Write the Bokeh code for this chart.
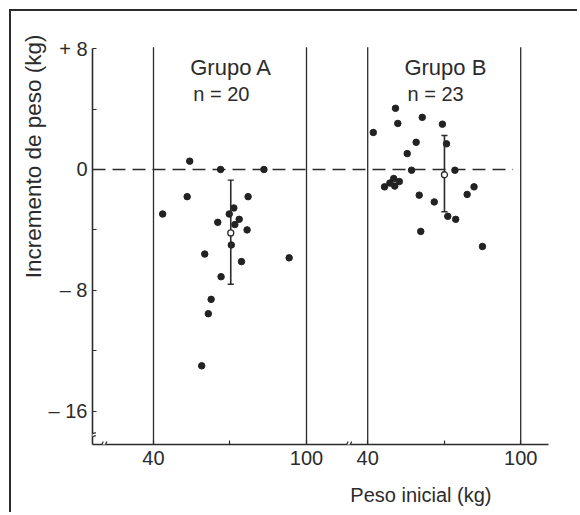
from bokeh.plotting import figure
from bokeh.models import Range1d, FixedTicker, Label, Arrow, Title
from bokeh.embed import file_html
from bokeh.resources import INLINE

# ---------------- data ----------------
a_peso = [54.2, 66.3, 83.3, 53.2, 77.1, 43.6, 71.5, 69.7, 73.6, 65.2,
          71.9, 76.7, 70.5, 60.1, 74.5, 93.2, 66.5, 62.6, 61.5, 58.9]
a_inc = [0.55, 0.0, 0.0, -1.8, -1.8, -2.95, -2.55, -2.95, -3.3, -3.5,
         -3.65, -4.0, -5.0, -5.6, -6.1, -5.85, -7.1, -8.6, -9.55, -13.0]

b_peso = [50.9, 61.4, 51.8, 69.3, 42.2, 70.9, 59.0, 55.5, 57.2, 74.2,
          46.6, 48.7, 50.2, 50.6, 52.4, 81.7, 60.2, 66.1, 79.0, 71.4,
          74.5, 60.8, 85.0]
b_inc = [4.05, 3.45, 3.05, 3.0, 2.45, 1.7, 1.8, 1.05, -0.05, -0.05,
         -1.15, -0.9, -0.6, -1.1, -0.8, -1.15, -1.7, -2.15, -1.65, -3.1,
         -3.3, -4.1, -5.1]

# mean and spread bar of each group: peso, mean, low, high
a_stats = [70.3, -4.2, -7.6, -0.7]
b_stats = [70.1, -0.35, -2.8, 2.25]

group_labels = ["Grupo A", "Grupo B"]
n_labels = ["n = 20", "n = 23"]

y_ticks = [8, 4, 0, -4, -8, -12, -16]
y_tick_labels = ["+ 8", "", "0", "", "\u2013 8", "", "\u2013 16"]
x_ticks = [40, 70, 100]
x_tick_labels = ["40", "", "100"]
panel_limits = [40, 100]

# ---------------- layout constants ----------------
B_OFF = 84.0            # horizontal shift of panel B on the shared axis
X0, X1 = 16.08, 194.9
Y0, Y1 = -18.21, 8.54
INK = "#2b2b2b"
FONT = "Liberation Sans"

p = figure(width=568, height=503, output_backend="svg", toolbar_location=None,
           x_range=Range1d(X0, X1), y_range=Range1d(Y0, Y1),
           min_border_left=81, min_border_right=31, min_border_top=29,
           min_border_bottom=70,
           styles={"border-top": "2px solid #2b2b2b",
                   "border-left": "2px solid #2b2b2b",
                   "margin-top": "9px", "margin-left": "9px"})
p.outline_line_color = None
p.grid.visible = False
p.background_fill_color = "white"
p.border_fill_color = "white"

# axes
for ax in (p.xaxis[0], p.yaxis[0]):
    ax.axis_line_color = INK
    ax.axis_line_width = 1.6
    ax.major_tick_line_color = INK
    ax.major_tick_line_width = 1.2
    ax.major_tick_in = 4
    ax.major_tick_out = 0
    ax.minor_tick_line_color = None
    ax.major_label_text_font = FONT
    ax.major_label_text_font_size = "20px"
    ax.major_label_text_color = INK

xt = x_ticks + [t + B_OFF for t in x_ticks]
xl = x_tick_labels + x_tick_labels
p.xaxis.ticker = FixedTicker(ticks=xt)
p.xaxis.major_label_overrides = {float(t): l for t, l in zip(xt, xl)}
p.xaxis.major_label_standoff = 6
# tiny blank axis label: only adds a few pixels of space above the x title
p.xaxis.axis_label = " "
p.xaxis.axis_label_text_font_size = "3px"
p.xaxis.axis_label_standoff = 0
p.yaxis.ticker = FixedTicker(ticks=y_ticks)
p.yaxis.major_label_overrides = {float(t): l for t, l in zip(y_ticks, y_tick_labels)}
p.yaxis.major_label_standoff = 5
p.yaxis.bounds = (Y0, max(y_ticks))

# axis titles
p.add_layout(Title(text="Incremento de peso (kg)", align="right", offset=-6,
                   text_font=FONT, text_font_size="22.5px",
                   text_font_style="normal", text_color=INK, standoff=0),
             "left")
p.add_layout(Title(text="Peso inicial (kg)", align="right", offset=57,
                   text_font=FONT, text_font_size="20px",
                   text_font_style="normal", text_color=INK, standoff=17),
             "below")

# panel limit lines
vx = panel_limits + [v + B_OFF for v in panel_limits]
p.segment(x0=vx, y0=[Y0] * 4, x1=vx, y1=[max(y_ticks) + 0.1] * 4,
          line_color=INK, line_width=1.3)

# zero line
p.segment(x0=[X0], y0=[0], x1=[97 + B_OFF], y1=[0], line_color=INK,
          line_width=1.3, line_dash="13 7")

# points
p.scatter(a_peso, a_inc, size=6.5, color="#222222")
p.scatter([v + B_OFF for v in b_peso], b_inc, size=6.5, color="#222222")

# mean bars
cap = 1.2
for off, (mx, my, lo, hi) in ((0, a_stats), (B_OFF, b_stats)):
    x = mx + off
    p.segment(x0=[x], y0=[lo], x1=[x], y1=[hi], line_color=INK, line_width=1.6)
    p.segment(x0=[x - cap, x - cap], y0=[lo, hi], x1=[x + cap, x + cap],
              y1=[lo, hi], line_color=INK, line_width=1.3)
    p.scatter([x], [my], size=6, fill_color="white", line_color=INK,
              line_width=1.3)

# group labels
for off, g, n in ((0, group_labels[0], n_labels[0]),
                  (B_OFF, group_labels[1], n_labels[1])):
    p.add_layout(Label(x=54.4 + off, y=6.72, text=g, text_font=FONT,
                       text_font_size="22px", text_color=INK,
                       text_baseline="alphabetic", text_align="left"))
    p.add_layout(Label(x=55.6 + off, y=4.98, text=n, text_font=FONT,
                       text_font_size="20px", text_color=INK,
                       text_baseline="alphabetic", text_align="left"))

# axis break marks
def brk_gap(xa, ya, xb, yb, w):
    p.add_layout(Arrow(x_start=xa, y_start=ya, x_end=xb, y_end=yb, end=None,
                       line_color="white", line_width=w))

def brk_mark(xa, ya, xb, yb):
    p.add_layout(Arrow(x_start=xa, y_start=ya, x_end=xb, y_end=yb, end=None,
                       line_color=INK, line_width=1.2))

yb = -17.6
brk_gap(X0, yb - 0.1, X0, yb + 0.1, 4)
brk_mark(X0 - 1.3, yb - 0.18, X0 + 1.3, yb - 0.02)
brk_mark(X0 - 1.3, yb + 0.02, X0 + 1.3, yb + 0.18)
for xb in (20.5, 116.5):
    brk_gap(xb - 0.6, Y0, xb + 0.6, Y0, 4)
    brk_mark(xb - 1.2, Y0 - 0.2, xb - 0.2, Y0 + 0.2)
    brk_mark(xb + 0.2, Y0 - 0.2, xb + 1.2, Y0 + 0.2)

open("out.html", "w").write(file_html(p, INLINE))
